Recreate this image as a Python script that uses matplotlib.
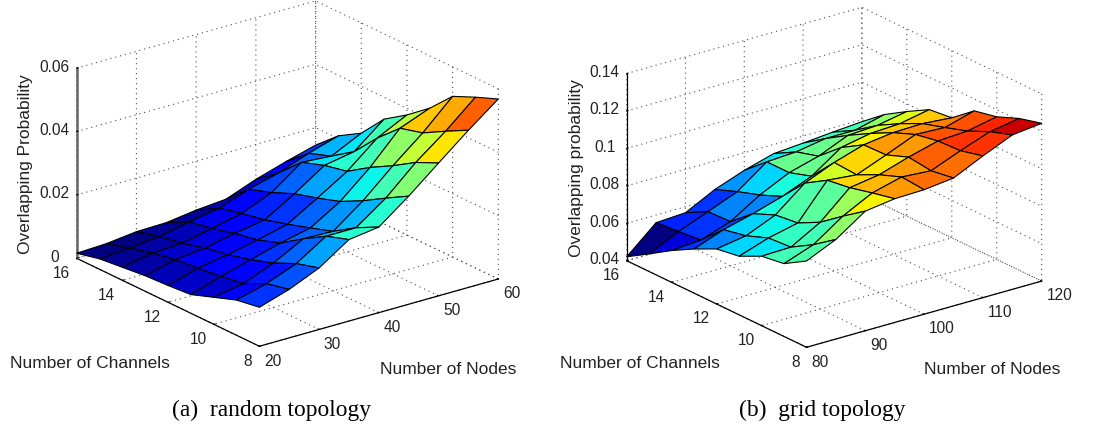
import numpy as np
import matplotlib
matplotlib.use('Agg')
import matplotlib.pyplot as plt
from matplotlib.colors import Normalize
from mpl_toolkits.mplot3d import proj3d

# channels run from 16 down to 8 (rows), nodes run left to right (columns)
channels = [16, 15, 14, 13, 12, 11, 10, 9, 8]
nodes_a = [20, 25, 30, 35, 40, 45, 50, 55, 60]
nodes_b = [80, 85, 90, 95, 100, 105, 110, 115, 120]

# random topology
prob_a = [
    [.0016, .0020, .0031, .0033, .0046, .0054, .0090, .0119, .0145],
    [.0033, .0040, .0050, .0070, .0086, .0120, .0145, .0180, .0209],
    [.0041, .0059, .0064, .0084, .0105, .0144, .0213, .0206, .0252],
    [.0049, .0073, .0083, .0103, .0119, .0175, .0238, .0255, .0331],
    [.0053, .0081, .0097, .0117, .0140, .0196, .0254, .0332, .0379],
    [.0059, .0090, .0116, .0142, .0163, .0220, .0301, .0398, .0435],
    [.0085, .0102, .0140, .0190, .0187, .0257, .0341, .0418, .0507],
    [.0111, .0136, .0173, .0233, .0233, .0300, .0386, .0458, .0539],
    [.0123, .0153, .0194, .0257, .0270, .0341, .0419, .0496, .0568],
]

# grid topology
prob_b = [
    [.0421, .0559, .0568, .0648, .0706, .0751, .0763, .0777, .0789],
    [.0494, .0569, .0631, .0694, .0809, .0818, .0845, .0845, .0885],
    [.0570, .0582, .0636, .0734, .0809, .0853, .0920, .0929, .0959],
    [.0636, .0695, .0736, .0784, .0848, .0957, .0988, .0996, .1027],
    [.0694, .0720, .0787, .0913, .0979, .1029, .1050, .1054, .1041],
    [.0713, .0766, .0802, .0986, .0971, .1033, .1098, .1091, .1136],
    [.0771, .0775, .0864, .1004, .1029, .1079, .1121, .1130, .1162],
    [.0789, .0846, .0954, .1034, .1075, .1064, .1127, .1184, .1211],
    [.0861, .0932, .1039, .1061, .1065, .1083, .1157, .1225, .1243],
]

ticks_channels = [8, 10, 12, 14, 16]
ticks_nodes_a = [20, 30, 40, 50, 60]
ticks_nodes_b = [80, 90, 100, 110, 120]
ticks_prob_a = [0, 0.02, 0.04, 0.06]
labels_prob_a = ['0', '0.02', '0.04', '0.06']
ticks_prob_b = [0.04, 0.06, 0.08, 0.10, 0.12, 0.14]
labels_prob_b = ['0.04', '0.06', '0.08', '0.1', '0.12', '0.14']

FIG_W, FIG_H = 1105, 428
SANS = 'Liberation Sans'
SERIF = 'Liberation Serif'
GRID_DOTS = (0, (1, 3.5))


def place_box(ax, left_px, right_px):
    # resize and shift the axes so two floor corners land on given pixels
    xlim, ylim, zlim = ax.get_xlim(), ax.get_ylim(), ax.get_zlim()
    side = 500.0
    pos = [100.0, 0.0]
    for _ in range(3):
        ax.set_position([pos[0] / FIG_W, pos[1] / FIG_H, side / FIG_W, side / FIG_H])
        ax.apply_aspect()
        x, y, _z = proj3d.proj_transform(
            np.array([xlim[0], xlim[1]]), np.array([ylim[1], ylim[0]]),
            np.array([zlim[0], zlim[0]]), ax.get_proj())
        pts = ax.transData.transform(np.column_stack([x, y]))
        scale = (right_px[0] - left_px[0]) / (pts[1, 0] - pts[0, 0])
        if abs(scale - 1) > 1e-4:
            side *= scale
            continue
        pos[0] += left_px[0] - pts[0, 0]
        pos[1] += (FIG_H - left_px[1]) - pts[0, 1]
    ax.set_position([pos[0] / FIG_W, pos[1] / FIG_H, side / FIG_W, side / FIG_H])


def draw_panel(fig, nodes, xticks, prob, zticks, zlabels, zlim, left_px, right_px, zline):
    ax = fig.add_axes([0.1, 0.1, 0.4, 0.4], projection='3d', proj_type='ortho')
    ax.patch.set_alpha(0)
    X, Y = np.meshgrid(nodes, channels)
    Z = np.array(prob)
    colors = plt.get_cmap('jet', 64)(Normalize(Z.min(), Z.max())(Z))
    surf = ax.plot_surface(X, Y, Z, facecolors=colors, rstride=1, cstride=1, shade=False)
    surf.set_edgecolor('black')
    surf.set_linewidth(0.8)

    ax.set_xlim(nodes[0], nodes[-1])
    ax.set_ylim(8, 16)
    ax.set_zlim(*zlim)
    ax.view_init(elev=21.6, azim=232.6)
    ax.set_box_aspect((300, 300, 204), zoom=1)

    ax.set_xticks(xticks)
    ax.set_yticks(ticks_channels)
    ax.set_zticks(zticks)
    ax.set_zticklabels(zlabels)
    for axis in (ax.xaxis, ax.yaxis, ax.zaxis):
        axis.set_pane_color((1, 1, 1, 0))
        axis.pane.set_edgecolor((1, 1, 1, 0))
        axis.line.set_linewidth(0.9)
        axis.line.set_color('black')
        axis._axinfo['grid'].update(color='0.3', linestyle=GRID_DOTS, linewidth=0.8)
        axis._axinfo['tick'].update(inward_factor=0.0, outward_factor=0.07)
        for label in axis.get_ticklabels():
            label.set_fontfamily(SANS)
            label.set_fontsize(11.2)
            label.set_color('#222222')
    ax.zaxis.line.set_color(zline[0])
    ax.zaxis.line.set_linewidth(zline[1])
    ax.tick_params(axis='x', pad=-3.5, width=0.8, color='black')
    ax.tick_params(axis='y', pad=-3, width=0.8, color='black')
    ax.tick_params(axis='z', pad=1, width=0.8, color='black')
    for label in ax.xaxis.get_ticklabels():
        label.set_ha('left')
    for label in ax.yaxis.get_ticklabels():
        label.set_ha('right')
    for label in ax.zaxis.get_ticklabels():
        label.set_va('center')
    ax.zaxis.set_ticks_position('upper')
    place_box(ax, left_px, right_px)
    return ax


def add_label(fig, x, y, text, rotation=0, family=SANS, size=12.5):
    fig.text(x / FIG_W, 1 - y / FIG_H, text, rotation=rotation, family=family, fontsize=size,
             ha='center', va='center', color='#222222' if family == SANS else 'black')


fig = plt.figure(figsize=(FIG_W / 100, FIG_H / 100), dpi=100)

draw_panel(fig, nodes_a, ticks_nodes_a, prob_a, ticks_prob_a, labels_prob_a, (0, 0.06),
           (76.7, 258.3), (498.3, 279.0), ('0.4', 1.8))
draw_panel(fig, nodes_b, ticks_nodes_b, prob_b, ticks_prob_b, labels_prob_b, (0.04, 0.14),
           (626.7, 260.7), (1041.7, 280.7), ('black', 0.9))

add_label(fig, 90, 364, 'Number of Channels')
add_label(fig, 448, 369, 'Number of Nodes')
add_label(fig, 26, 164, 'Overlapping Probability', rotation=90)
add_label(fig, 640, 364, 'Number of Channels')
add_label(fig, 992, 369, 'Number of Nodes')
add_label(fig, 577, 168, 'Overlapping probability', rotation=90)
add_label(fig, 271, 410, '(a)  random topology', family=SERIF, size=16.9)
add_label(fig, 822, 410, '(b)  grid topology', family=SERIF, size=16.9)

fig.savefig('out.png', dpi=100)
